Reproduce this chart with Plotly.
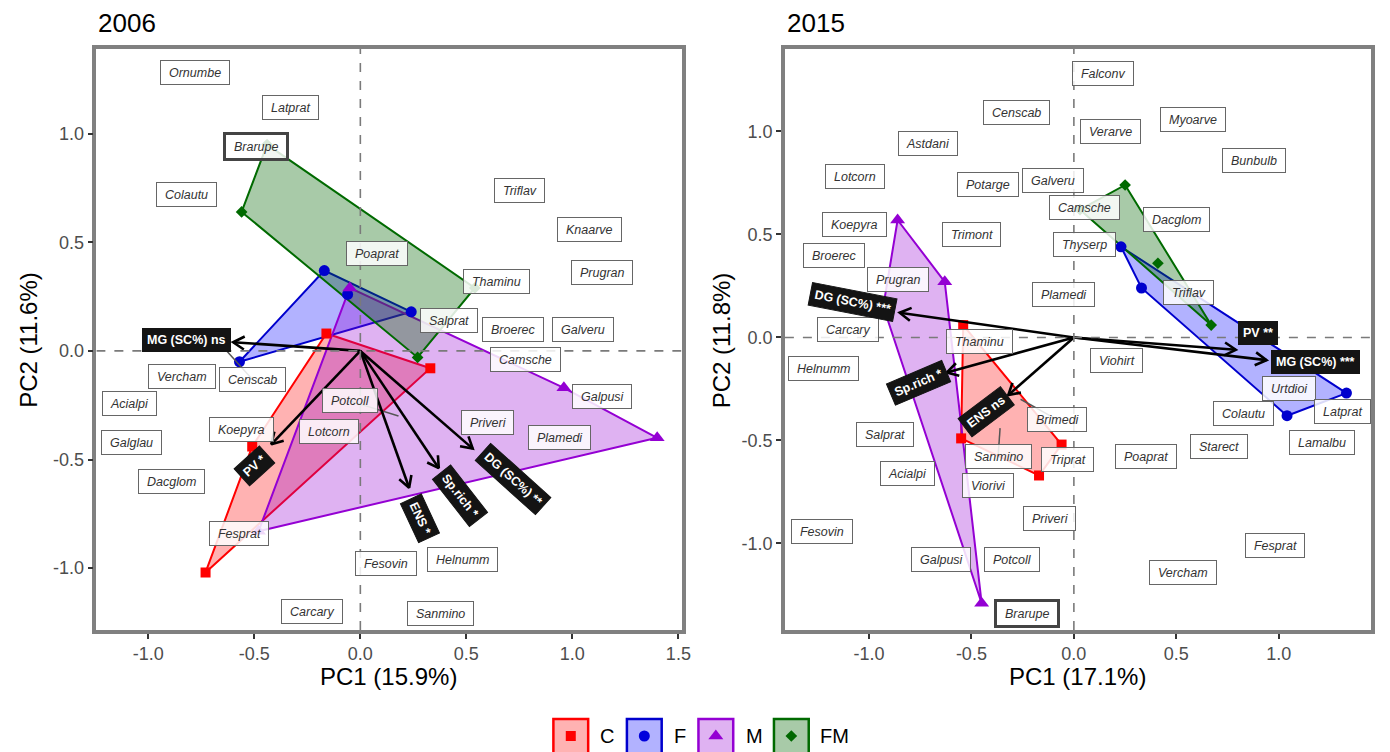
import math
import plotly.graph_objects as go

W, H = 1390, 752

# ---------------- group scores (site points) ----------------
GROUPS = ["C", "F", "M", "FM"]
LINE_COL = {"C": "#FF0000", "F": "#0000CD", "M": "#9400D3", "FM": "#006A00"}
FILL_COL = {"C": "rgba(255,0,0,0.30)", "F": "rgba(0,0,255,0.30)",
            "M": "rgba(148,0,211,0.30)", "FM": "rgba(0,100,0,0.34)"}
SYMBOL = {"C": "square", "F": "circle", "M": "triangle-up", "FM": "diamond"}
MSIZE = {"C": 10, "F": 11, "M": 13, "FM": 9}

# 2006
c06_x = [-0.73, -0.51, -0.16, 0.33]
c06_y = [-1.02, -0.44, 0.08, -0.08]
f06_x = [-0.57, -0.17, -0.06, 0.24]
f06_y = [-0.05, 0.37, 0.26, 0.18]
m06_x = [-0.48, -0.05, 0.96, 1.40]
m06_y = [-0.83, 0.29, -0.17, -0.40]
fm06_x = [-0.56, -0.44, 0.54, 0.27]
fm06_y = [0.64, 0.95, 0.29, -0.03]

# 2015
c15_x = [-0.54, -0.55, -0.17, -0.06]
c15_y = [0.06, -0.49, -0.67, -0.52]
f15_x = [0.23, 0.33, 1.33, 1.04]
f15_y = [0.44, 0.24, -0.27, -0.38]
m15_x = [-0.86, -0.63, -0.45, -0.93]
m15_y = [0.57, 0.27, -1.29, 0.15]
fm15_x = [0.03, 0.25, 0.41, 0.67]
fm15_y = [0.62, 0.74, 0.36, 0.06]

# ---------------- species scores (label positions) ----------------
sp06_names = ["Ornumbe", "Latprat", "Brarupe", "Colautu", "Triflav", "Knaarve",
              "Poaprat", "Prugran", "Thaminu", "Salprat", "Broerec", "Galveru",
              "Camsche", "Censcab", "Vercham", "Acialpi", "Galpusi", "Potcoll",
              "Koepyra", "Lotcorn", "Priveri", "Plamedi", "Galglau", "Dacglom",
              "Fesprat", "Fesovin", "Helnumm", "Carcary", "Sanmino"]
sp06_x = [-0.78, -0.33, -0.49, -0.82, 0.75, 1.08,
          0.08, 1.14, 0.64, 0.42, 0.72, 1.05,
          0.78, -0.51, -0.84, -1.09, 1.14, -0.05,
          -0.56, -0.15, 0.60, 0.94, -1.08, -0.89,
          -0.57, 0.12, 0.48, -0.23, 0.38]
sp06_y = [1.28, 1.12, 0.94, 0.72, 0.74, 0.56,
          0.45, 0.36, 0.32, 0.14, 0.10, 0.10,
          -0.04, -0.13, -0.12, -0.24, -0.21, -0.23,
          -0.36, -0.37, -0.33, -0.40, -0.42, -0.60,
          -0.84, -0.98, -0.96, -1.20, -1.21]

sp15_names = ["Falconv", "Censcab", "Verarve", "Myoarve", "Astdani", "Bunbulb",
              "Lotcorn", "Potarge", "Galveru", "Camsche", "Dacglom", "Koepyra",
              "Trimont", "Thyserp", "Broerec", "Prugran", "Plamedi", "Triflav",
              "Carcary", "Thaminu", "Viohirt", "Urtdioi", "Helnumm", "Colautu",
              "Latprat", "Brimedi", "Salprat", "Lamalbu", "Starect", "Sanmino",
              "Triprat", "Poaprat", "Acialpi", "Viorivi", "Priveri", "Fesovin",
              "Fesprat", "Galpusi", "Potcoll", "Vercham", "Brarupe"]
sp15_x = [0.14, -0.28, 0.18, 0.58, -0.71, 0.88,
          -1.07, -0.42, -0.10, 0.05, 0.50, -1.07,
          -0.50, 0.05, -1.17, -0.86, -0.05, 0.56,
          -1.10, -0.46, 0.21, 1.05, -1.22, 0.83,
          1.31, -0.08, -0.92, 1.21, 0.71, -0.37,
          -0.03, 0.35, -0.81, -0.42, -0.12, -1.23,
          0.98, -0.65, -0.30, 0.53, -0.23]
sp15_y = [1.28, 1.09, 1.00, 1.06, 0.94, 0.86,
          0.78, 0.74, 0.76, 0.63, 0.57, 0.55,
          0.50, 0.45, 0.40, 0.28, 0.21, 0.22,
          0.04, -0.02, -0.11, -0.25, -0.15, -0.37,
          -0.36, -0.40, -0.47, -0.51, -0.53, -0.58,
          -0.59, -0.58, -0.66, -0.72, -0.88, -0.94,
          -1.01, -1.08, -1.08, -1.14, -1.34]
HIGHLIGHT = "Brarupe"

# leader segments: species label -> its point
lead06_names = ["Censcab", "Potcoll"]
lead06_x = [-0.63, 0.18]
lead06_y = [0.00, -0.30]
lead15_names = ["Brimedi", "Sanmino"]
lead15_x = [-0.26, -0.36]
lead15_y = [-0.30, -0.44]

# ---------------- explanatory vectors ----------------
vec06_names = ["MG (SC%) ns", "PV *", "ENS *", "Sp.rich *", "DG (SC%) **"]
vec06_x = [-0.60, -0.42, 0.23, 0.37, 0.53]
vec06_y = [0.04, -0.43, -0.63, -0.54, -0.45]
lab06_x = [-0.82, -0.50, 0.28, 0.47, 0.72]
lab06_y = [0.05, -0.53, -0.77, -0.67, -0.59]
lab06_ang = [0, -42, 65, 52, 42]

vec15_names = ["DG (SC%) ***", "Sp.rich *", "ENS ns", "PV **", "MG (SC%) ***"]
vec15_x = [-0.85, -0.62, -0.32, 0.79, 0.94]
vec15_y = [0.12, -0.17, -0.28, -0.06, -0.11]
lab15_x = [-1.08, -0.76, -0.43, 0.90, 1.18]
lab15_y = [0.17, -0.22, -0.36, 0.02, -0.12]
lab15_ang = [11, -23, -37, 0, 0]

# ---------------- axes ----------------
tick_vals06 = [-1.0, -0.5, 0.0, 0.5, 1.0, 1.5]
tick_text06 = ["-1.0", "-0.5", "0.0", "0.5", "1.0", "1.5"]
tick_vals15 = [-1.0, -0.5, 0.0, 0.5, 1.0]
tick_text15 = ["-1.0", "-0.5", "0.0", "0.5", "1.0"]
ytick_vals = [-1.0, -0.5, 0.0, 0.5, 1.0]
ytick_text = ["-1.0", "-0.5", "0.0", "0.5", "1.0"]

FONT = "Liberation Sans, Arial"

PANELS = [
    dict(title="2006", xt="PC1 (15.9%)", yt="PC2 (11.6%)",
         xd=(97, 686), xr=(-1.245, 1.515), yr=(-1.285, 1.39),
         xtv=tick_vals06, xtt=tick_text06,
         groups={"C": (c06_x, c06_y), "F": (f06_x, f06_y),
                 "M": (m06_x, m06_y), "FM": (fm06_x, fm06_y)},
         sp=(sp06_names, sp06_x, sp06_y),
         lead=(lead06_names, lead06_x, lead06_y),
         vec=(vec06_names, vec06_x, vec06_y, lab06_x, lab06_y, lab06_ang),
         ytx=28),
    dict(title="2015", xt="PC1 (17.1%)", yt="PC2 (11.8%)",
         xd=(790, 1380), xr=(-1.41, 1.45), yr=(-1.42, 1.40),
         xtv=tick_vals15, xtt=tick_text15,
         groups={"C": (c15_x, c15_y), "F": (f15_x, f15_y),
                 "M": (m15_x, m15_y), "FM": (fm15_x, fm15_y)},
         sp=(sp15_names, sp15_x, sp15_y),
         lead=(lead15_names, lead15_x, lead15_y),
         vec=(vec15_names, vec15_x, vec15_y, lab15_x, lab15_y, lab15_ang),
         ytx=726),
]
YD = (49, 630)  # top / bottom of panels in px


def convex_hull(xs, ys):
    pts = sorted(set(zip(xs, ys)))
    if len(pts) < 3:
        return pts

    def cross(o, a, b):
        return (a[0] - o[0]) * (b[1] - o[1]) - (a[1] - o[1]) * (b[0] - o[0])

    lower, upper = [], []
    for p in pts:
        while len(lower) >= 2 and cross(lower[-2], lower[-1], p) <= 0:
            lower.pop()
        lower.append(p)
    for p in reversed(pts):
        while len(upper) >= 2 and cross(upper[-2], upper[-1], p) <= 0:
            upper.pop()
        upper.append(p)
    return lower[:-1] + upper[:-1]


fig = go.Figure()
annotations = []
shapes = []
layout_axes = {}

for i, P in enumerate(PANELS):
    n = "" if i == 0 else str(i + 1)
    xref, yref = "x" + n, "y" + n
    x0p, x1p = P["xd"]
    sx = (x1p - x0p) / (P["xr"][1] - P["xr"][0])   # px per unit
    sy = (YD[1] - YD[0]) / (P["yr"][1] - P["yr"][0])

    axis_common = dict(
        showgrid=False, zeroline=False, showline=True, mirror=True,
        linecolor="#808080", linewidth=3.5, ticks="outside", ticklen=5,
        tickwidth=1.5, tickcolor="#333333",
        tickfont=dict(size=18, color="#4D4D4D", family=FONT))
    layout_axes["xaxis" + n] = dict(
        domain=[x0p / W, x1p / W], range=list(P["xr"]), anchor=yref,
        tickvals=P["xtv"], ticktext=P["xtt"], **axis_common)
    layout_axes["yaxis" + n] = dict(
        domain=[1 - YD[1] / H, 1 - YD[0] / H], range=list(P["yr"]), anchor=xref,
        tickvals=ytick_vals, ticktext=ytick_text, **axis_common)

    # group hulls
    for g in GROUPS:
        gx, gy = P["groups"][g]
        hull = convex_hull(gx, gy)
        hx = [p[0] for p in hull] + [hull[0][0]]
        hy = [p[1] for p in hull] + [hull[0][1]]
        fig.add_trace(go.Scatter(
            x=hx, y=hy, xaxis=xref, yaxis=yref, mode="lines", fill="toself",
            fillcolor=FILL_COL[g], line=dict(color=LINE_COL[g], width=2),
            showlegend=False, hoverinfo="skip"))
    for g in GROUPS:
        gx, gy = P["groups"][g]
        fig.add_trace(go.Scatter(
            x=gx, y=gy, xaxis=xref, yaxis=yref, mode="markers",
            marker=dict(symbol=SYMBOL[g], size=MSIZE[g], color=LINE_COL[g],
                        line=dict(width=0)),
            showlegend=False, hoverinfo="skip"))

    # zero lines
    shapes.append(dict(type="line", xref=xref, yref=yref, x0=0, x1=0,
                       y0=P["yr"][0], y1=P["yr"][1], layer="above",
                       line=dict(color="#7A7A7A", width=1.6, dash="dash")))
    shapes.append(dict(type="line", xref=xref, yref=yref, y0=0, y1=0,
                       x0=P["xr"][0], x1=P["xr"][1], layer="above",
                       line=dict(color="#7A7A7A", width=1.6, dash="dash")))

    # leader segments
    names, sxs, sys_ = P["sp"]
    ln, lx, ly = P["lead"]
    segx, segy = [], []
    for nm, px, py in zip(ln, lx, ly):
        k = names.index(nm)
        segx += [sxs[k], px, None]
        segy += [sys_[k], py, None]
    fig.add_trace(go.Scatter(x=segx, y=segy, xaxis=xref, yaxis=yref, mode="lines",
                             line=dict(color="#555555", width=1.5),
                             showlegend=False, hoverinfo="skip"))

    # vectors with open chevron heads
    vn, vx, vy, lxs, lys, angs = P["vec"]
    ax_, ay_ = [], []
    for tx, ty in zip(vx, vy):
        px, py = tx * sx, ty * sy
        L = math.hypot(px, py)
        ux, uy = px / L, py / L
        ax_ += [0, tx, None]
        ay_ += [0, ty, None]
        hl, th = 13, math.radians(30)
        pts = []
        for s in (1, -1):
            c, sn = math.cos(s * th), math.sin(s * th)
            rx, ry = ux * c - uy * sn, ux * sn + uy * c
            pts.append((tx - hl * rx / sx, ty - hl * ry / sy))
        ax_ += [pts[0][0], tx, pts[1][0], None]
        ay_ += [pts[0][1], ty, pts[1][1], None]
    fig.add_trace(go.Scatter(x=ax_, y=ay_, xaxis=xref, yaxis=yref, mode="lines",
                             line=dict(color="black", width=2.6),
                             showlegend=False, hoverinfo="skip"))

    # species labels
    for nm, x, y in zip(names, sxs, sys_):
        hi = nm == HIGHLIGHT
        annotations.append(dict(
            x=x, y=y, xref=xref, yref=yref, showarrow=False,
            text="\u00a0<i>" + nm + "</i>\u00a0",
            font=dict(size=12.5, color="#333333", family=FONT),
            bgcolor="rgba(255,255,255,0.85)",
            bordercolor="#444444" if hi else "#666666",
            borderwidth=3 if hi else 1, borderpad=4.5))

    # vector labels
    for nm, x, y, a in zip(vn, lxs, lys, angs):
        annotations.append(dict(
            x=x, y=y, xref=xref, yref=yref, showarrow=False, textangle=a,
            text="<b>" + nm + "</b>",
            font=dict(size=12.5, color="white", family=FONT),
            bgcolor="#141414", bordercolor="#141414", borderwidth=1, borderpad=4))

    # panel title and axis titles
    annotations.append(dict(x=x0p / W, y=1 - 23 / H, xref="paper", yref="paper",
                            xanchor="left", yanchor="middle", showarrow=False,
                            text=P["title"],
                            font=dict(size=26, color="black", family=FONT)))
    annotations.append(dict(x=(x0p + x1p) / 2 / W, y=1 - 676 / H, xref="paper", yref="paper",
                            xanchor="center", yanchor="middle", showarrow=False,
                            text=P["xt"],
                            font=dict(size=24, color="black", family=FONT)))
    annotations.append(dict(x=P["ytx"] / W, y=1 - 340 / H, xref="paper", yref="paper",
                            xanchor="center", yanchor="middle", showarrow=False,
                            textangle=-90, text=P["yt"],
                            font=dict(size=24, color="black", family=FONT)))

# ---------------- legend (drawn on a pixel-scaled strip) ----------------
leg_labels = ["C", "F", "M", "FM"]
leg_box_x = [557, 631, 703, 779]
leg_text_x = [611, 684, 759, 840]
BOX_W = 35
LEG_Y = 16      # px above the bottom edge
layout_axes["xaxis3"] = dict(domain=[0, 1], range=[0, W], visible=False, anchor="y3")
layout_axes["yaxis3"] = dict(domain=[0, 45 / H], range=[0, 45], visible=False, anchor="x3")
for g, bx, tx in zip(leg_labels, leg_box_x, leg_text_x):
    shapes.append(dict(type="rect", xref="x3", yref="y3", x0=bx, x1=bx + BOX_W,
                       y0=-4, y1=33, fillcolor=FILL_COL[g],
                       line=dict(color=LINE_COL[g], width=2.5)))
    fig.add_trace(go.Scatter(x=[bx + BOX_W / 2], y=[LEG_Y], xaxis="x3", yaxis="y3",
                             mode="markers",
                             marker=dict(symbol=SYMBOL[g], size=MSIZE[g], color=LINE_COL[g]),
                             showlegend=False, hoverinfo="skip"))
    annotations.append(dict(x=tx, y=LEG_Y, xref="x3", yref="y3", showarrow=False,
                            text=g, xanchor="center", yanchor="middle",
                            font=dict(size=20, color="black", family=FONT)))

fig.update_layout(
    width=W, height=H, margin=dict(l=0, r=0, t=0, b=0),
    paper_bgcolor="white", plot_bgcolor="white",
    showlegend=False, annotations=annotations, shapes=shapes,
    **layout_axes)

fig.write_html("out.html")
